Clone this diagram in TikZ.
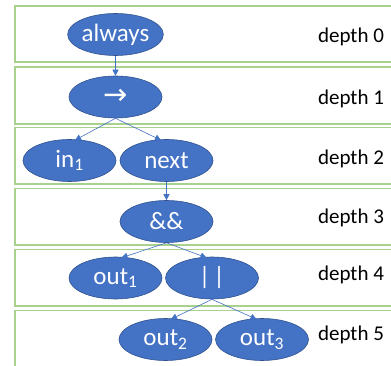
\documentclass[tikz,border=0pt]{standalone}
\usepackage{fontspec}
\setmainfont{Carlito}
\newfontfamily\symfont{DejaVu Sans}
\usetikzlibrary{shapes.geometric,arrows.meta}
\definecolor{nodeblue}{HTML}{4472C4}
\definecolor{nodeedge}{HTML}{2F528F}
\definecolor{bandgreen}{HTML}{A9D18E}
\tikzset{
  band/.style={draw=bandgreen, line width=1.8pt},
  tnode/.style={ellipse, fill=nodeblue, draw=nodeedge, line width=0.6pt,
    minimum width=93pt, minimum height=42pt, inner sep=0pt, text=white,
    font=\fontsize{25}{29}\selectfont},
  depthlbl/.style={font=\fontsize{21}{25}\selectfont, text=black},
  conn/.style={draw=nodeblue, line width=0.6pt, -{Triangle[width=6pt,length=6pt]}}
}
\begin{document}
\begin{tikzpicture}[x=1pt,y=-1pt]
\useasboundingbox (0,0) rectangle (391,366);
\clip (0,0) rectangle (391,366);
\fill[white] (0,0) rectangle (391,366);
% bands
\draw[band] (15,6) rectangle (400,62);
\draw[band] (15,67) rectangle (400,124);
\draw[band] (15,127.5) rectangle (400,184);
\draw[band] (15,188.5) rectangle (400,245);
\draw[band] (15,249.5) rectangle (400,306);
\draw[band] (15,310.5) rectangle (400,380);
% nodes
\node[tnode] (always) at (115.5,34.5) {always};
\node[tnode] (imp) at (115.5,97) {\symfont\fontsize{29}{32}\selectfont →};
\node[tnode] (in1) at (69.5,160.5) {in\textsubscript{1}};
\node[tnode] (next) at (166.5,160.5) {next};
\node[tnode] (and) at (166.5,221.5) {\&\&};
\node[tnode] (out1) at (115.5,278) {out\textsubscript{1}};
\node[tnode] (or) at (212,278) {|\kern3pt|};
\node[tnode] (out2) at (165.5,339.5) {out\textsubscript{2}};
\node[tnode] (out3) at (262,339.5) {out\textsubscript{3}};
% labels
\node[depthlbl] (d0) at (351,37) {depth 0};
\node[depthlbl] (d1) at (351,99) {depth 1};
\node[depthlbl] (d2) at (351,159) {depth 2};
\node[depthlbl] (d3) at (351,218) {depth 3};
\node[depthlbl] (d4) at (351,275) {depth 4};
\node[depthlbl] (d5) at (351,335) {depth 5};
% connectors
\draw[conn] (always.south) -- (imp.north);
\draw[conn] (imp.south) -- ([xshift=5.5pt,yshift=-1pt]in1.north);
\draw[conn] (imp.south) -- ([xshift=-5.5pt,yshift=-1pt]next.north);
\draw[conn] (next.south) -- (and.north);
\draw[conn] (and.south) -- ([xshift=6pt,yshift=-1pt]out1.north);
\draw[conn] (and.south) -- ([xshift=-5.5pt,yshift=-1pt]or.north);
\draw[conn] (or.south) -- ([xshift=5.5pt,yshift=-1pt]out2.north);
\draw[conn] (or.south) -- ([xshift=-5.5pt,yshift=-1pt]out3.north);
\end{tikzpicture}
\end{document}
